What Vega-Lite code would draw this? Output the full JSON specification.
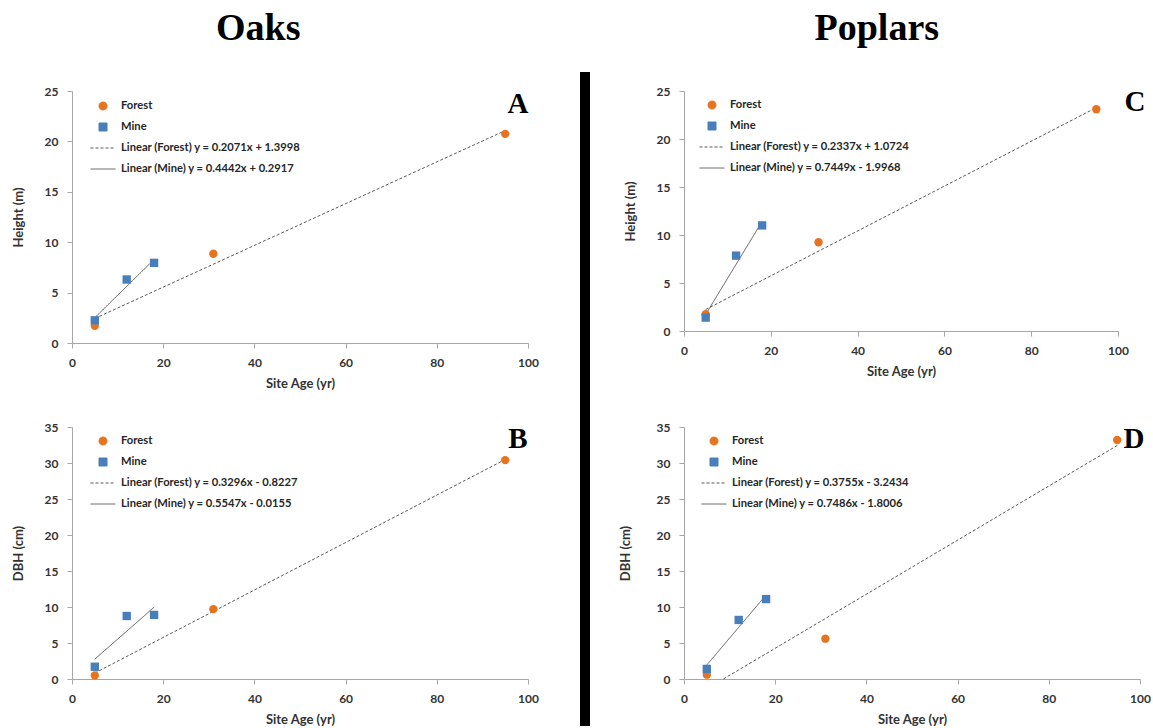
{
  "$schema": "https://vega.github.io/schema/vega-lite/v6.json",
  "background": "white",
  "padding": {"left": 12, "top": 10, "right": 0, "bottom": 0},
  "config": {
    "view": {"stroke": null},
    "font": "Lato",
    "axis": {"grid": false, "domainColor": "#a6a6a6", "tickColor": "#a6a6a6", "tickSize": 5, "labelFont": "Lato", "labelFontSize": 12, "labelFontWeight": "bold", "labelColor": "#333333", "labelFlush": false, "labelOverlap": false, "titleFont": "Lato", "titleFontSize": 13, "titleFontWeight": "bold", "titleColor": "#333333"},
    "axisX": {"labelPadding": 9, "titlePadding": 9},
    "axisY": {"labelPadding": 9, "titlePadding": 19},
    "legend": {"orient": "none", "title": null, "symbolSize": 625, "symbolStrokeWidth": 1, "rowPadding": 2, "labelOffset": 5, "labelFont": "Lato", "labelFontSize": 11.2, "labelFontWeight": "bold", "labelColor": "#262626", "labelLimit": 400},
    "title": {"font": "Liberation Serif", "fontSize": 38, "fontWeight": "bold", "color": "black", "anchor": "middle", "offset": 24}
  },
  "datasets": {
    "points": [
      {"panel": "A", "series": "Forest", "age": 5, "value": 1.7},
      {"panel": "A", "series": "Forest", "age": 31, "value": 8.85},
      {"panel": "A", "series": "Forest", "age": 95, "value": 20.75},
      {"panel": "A", "series": "Mine", "age": 5, "value": 2.25},
      {"panel": "A", "series": "Mine", "age": 12, "value": 6.3},
      {"panel": "A", "series": "Mine", "age": 18, "value": 7.95},
      {"panel": "B", "series": "Forest", "age": 5, "value": 0.5},
      {"panel": "B", "series": "Forest", "age": 31, "value": 9.7},
      {"panel": "B", "series": "Forest", "age": 95, "value": 30.4},
      {"panel": "B", "series": "Mine", "age": 5, "value": 1.7},
      {"panel": "B", "series": "Mine", "age": 12, "value": 8.75},
      {"panel": "B", "series": "Mine", "age": 18, "value": 8.9},
      {"panel": "C", "series": "Forest", "age": 5, "value": 1.75},
      {"panel": "C", "series": "Forest", "age": 31, "value": 9.25},
      {"panel": "C", "series": "Forest", "age": 95, "value": 23.1},
      {"panel": "C", "series": "Mine", "age": 5, "value": 1.4},
      {"panel": "C", "series": "Mine", "age": 12, "value": 7.85},
      {"panel": "C", "series": "Mine", "age": 18, "value": 11.0},
      {"panel": "D", "series": "Forest", "age": 5, "value": 0.6},
      {"panel": "D", "series": "Forest", "age": 31, "value": 5.6},
      {"panel": "D", "series": "Forest", "age": 95, "value": 33.2},
      {"panel": "D", "series": "Mine", "age": 5, "value": 1.4},
      {"panel": "D", "series": "Mine", "age": 12, "value": 8.2},
      {"panel": "D", "series": "Mine", "age": 18, "value": 11.1}
    ],
    "trends": [
      {"panel": "A", "series": "Linear (Forest) y = 0.2071x + 1.3998", "age": 5, "value": 2.435},
      {"panel": "A", "series": "Linear (Forest) y = 0.2071x + 1.3998", "age": 95, "value": 21.07},
      {"panel": "A", "series": "Linear (Mine) y = 0.4442x + 0.2917", "age": 5, "value": 2.51},
      {"panel": "A", "series": "Linear (Mine) y = 0.4442x + 0.2917", "age": 18, "value": 8.29},
      {"panel": "B", "series": "Linear (Forest) y = 0.3296x - 0.8227", "age": 5, "value": 0.825},
      {"panel": "B", "series": "Linear (Forest) y = 0.3296x - 0.8227", "age": 95, "value": 30.49},
      {"panel": "B", "series": "Linear (Mine) y = 0.5547x - 0.0155", "age": 5, "value": 2.758},
      {"panel": "B", "series": "Linear (Mine) y = 0.5547x - 0.0155", "age": 18, "value": 9.969},
      {"panel": "C", "series": "Linear (Forest) y = 0.2337x + 1.0724", "age": 5, "value": 2.241},
      {"panel": "C", "series": "Linear (Forest) y = 0.2337x + 1.0724", "age": 95, "value": 23.27},
      {"panel": "C", "series": "Linear (Mine) y = 0.7449x - 1.9968", "age": 5, "value": 1.728},
      {"panel": "C", "series": "Linear (Mine) y = 0.7449x - 1.9968", "age": 18, "value": 11.41},
      {"panel": "D", "series": "Linear (Forest) y = 0.3755x - 3.2434", "age": 8.64, "value": 0},
      {"panel": "D", "series": "Linear (Forest) y = 0.3755x - 3.2434", "age": 95, "value": 32.43},
      {"panel": "D", "series": "Linear (Mine) y = 0.7486x - 1.8006", "age": 5, "value": 1.943},
      {"panel": "D", "series": "Linear (Mine) y = 0.7486x - 1.8006", "age": 18, "value": 11.67}
    ],
    "letters": [
      {"panel": "A", "letter": "A", "lx": 97.8, "ly": 23.7},
      {"panel": "B", "letter": "B", "lx": 97.8, "ly": 33.3},
      {"panel": "C", "letter": "C", "lx": 103.9, "ly": 23.85},
      {"panel": "D", "letter": "D", "lx": 98.7, "ly": 33.3}
    ]
  },
  "resolve": {"scale": {"color": "independent", "shape": "independent", "strokeDash": "independent"}, "legend": {"color": "independent", "shape": "independent", "strokeDash": "independent"}},
  "spacing": 41,
  "hconcat": [
    {
      "title": {"text": "Oaks", "dx": -17},
      "spacing": 0,
      "resolve": {"scale": {"color": "independent", "shape": "independent", "strokeDash": "independent"}, "legend": {"color": "independent", "shape": "independent", "strokeDash": "independent"}},
      "vconcat": [
        {"width": 10, "height": 13, "data": {"values": [{}]}, "mark": {"type": "point", "opacity": 0}, "encoding": {}},
        {
          "spacing": 31,
          "resolve": {"scale": {"color": "independent", "shape": "independent", "strokeDash": "independent"}, "legend": {"color": "independent", "shape": "independent", "strokeDash": "independent"}},
          "vconcat": [
            {
              "width": 456, "height": 252,
              "layer": [
                {"data": {"name": "trends"}, "transform": [{"filter": "datum.panel === 'A'"}], "mark": {"type": "line", "strokeWidth": 1},
                 "encoding": {
                   "x": {"field": "age", "type": "quantitative", "scale": {"domain": [0, 100], "nice": false}, "axis": {"values": [0, 20, 40, 60, 80, 100], "title": "Site Age (yr)"}},
                   "y": {"field": "value", "type": "quantitative", "scale": {"domain": [0, 25], "nice": false}, "axis": {"values": [0, 5, 10, 15, 20, 25], "title": "Height (m)"}},
                   "color": {"field": "series", "type": "nominal", "scale": {"domain": ["Forest", "Mine", "Linear (Forest) y = 0.2071x + 1.3998", "Linear (Mine) y = 0.4442x + 0.2917"], "range": ["#E8731E", "#4A7EBB", "#595959", "#595959"]}, "legend": {"legendX": 18, "legendY": 2, "encode": {"symbols": {"update": {"size": {"signal": "datum.value === 'Forest' || datum.value === 'Mine' ? 64 : 625"}}}}}},
                   "strokeDash": {"field": "series", "type": "nominal", "scale": {"domain": ["Forest", "Mine", "Linear (Forest) y = 0.2071x + 1.3998", "Linear (Mine) y = 0.4442x + 0.2917"], "range": [[1, 0], [1, 0], [3, 2], [1, 0]]}, "legend": {"legendX": 18, "legendY": 2, "encode": {"symbols": {"update": {"size": {"signal": "datum.value === 'Forest' || datum.value === 'Mine' ? 64 : 625"}}}}}}
                 }},
                {"data": {"name": "points"}, "transform": [{"filter": "datum.panel === 'A'"}], "mark": {"type": "point", "filled": true, "opacity": 1, "size": 70},
                 "encoding": {
                   "x": {"field": "age", "type": "quantitative", "scale": {"domain": [0, 100], "nice": false}, "axis": {"values": [0, 20, 40, 60, 80, 100], "title": "Site Age (yr)"}},
                   "y": {"field": "value", "type": "quantitative", "scale": {"domain": [0, 25], "nice": false}, "axis": {"values": [0, 5, 10, 15, 20, 25], "title": "Height (m)"}},
                   "color": {"field": "series", "type": "nominal", "scale": {"domain": ["Forest", "Mine", "Linear (Forest) y = 0.2071x + 1.3998", "Linear (Mine) y = 0.4442x + 0.2917"], "range": ["#E8731E", "#4A7EBB", "#595959", "#595959"]}, "legend": {"legendX": 18, "legendY": 2, "encode": {"symbols": {"update": {"size": {"signal": "datum.value === 'Forest' || datum.value === 'Mine' ? 64 : 625"}}}}}},
                   "shape": {"field": "series", "type": "nominal", "scale": {"domain": ["Forest", "Mine", "Linear (Forest) y = 0.2071x + 1.3998", "Linear (Mine) y = 0.4442x + 0.2917"], "range": ["circle", "square", "stroke", "stroke"]}, "legend": {"legendX": 18, "legendY": 2, "encode": {"symbols": {"update": {"size": {"signal": "datum.value === 'Forest' || datum.value === 'Mine' ? 64 : 625"}}}}}}
                 }},
                {"data": {"name": "letters"}, "transform": [{"filter": "datum.panel === 'A'"}], "mark": {"type": "text", "font": "Liberation Serif", "fontSize": 29, "fontWeight": "bold", "align": "center", "baseline": "middle", "fill": "black"},
                 "encoding": {
                   "x": {"field": "lx", "type": "quantitative", "scale": {"domain": [0, 100], "nice": false}, "axis": {"values": [0, 20, 40, 60, 80, 100], "title": "Site Age (yr)"}},
                   "y": {"field": "ly", "type": "quantitative", "scale": {"domain": [0, 25], "nice": false}, "axis": {"values": [0, 5, 10, 15, 20, 25], "title": "Height (m)"}},
                   "text": {"field": "letter", "type": "nominal"}}}
              ]
            },
            {
              "width": 456, "height": 252,
              "layer": [
                {"data": {"name": "trends"}, "transform": [{"filter": "datum.panel === 'B'"}], "mark": {"type": "line", "strokeWidth": 1},
                 "encoding": {
                   "x": {"field": "age", "type": "quantitative", "scale": {"domain": [0, 100], "nice": false}, "axis": {"values": [0, 20, 40, 60, 80, 100], "title": "Site Age (yr)"}},
                   "y": {"field": "value", "type": "quantitative", "scale": {"domain": [0, 35], "nice": false}, "axis": {"values": [0, 5, 10, 15, 20, 25, 30, 35], "title": "DBH (cm)"}},
                   "color": {"field": "series", "type": "nominal", "scale": {"domain": ["Forest", "Mine", "Linear (Forest) y = 0.3296x - 0.8227", "Linear (Mine) y = 0.5547x - 0.0155"], "range": ["#E8731E", "#4A7EBB", "#595959", "#595959"]}, "legend": {"legendX": 18, "legendY": 1, "encode": {"symbols": {"update": {"size": {"signal": "datum.value === 'Forest' || datum.value === 'Mine' ? 64 : 625"}}}}}},
                   "strokeDash": {"field": "series", "type": "nominal", "scale": {"domain": ["Forest", "Mine", "Linear (Forest) y = 0.3296x - 0.8227", "Linear (Mine) y = 0.5547x - 0.0155"], "range": [[1, 0], [1, 0], [3, 2], [1, 0]]}, "legend": {"legendX": 18, "legendY": 1, "encode": {"symbols": {"update": {"size": {"signal": "datum.value === 'Forest' || datum.value === 'Mine' ? 64 : 625"}}}}}}
                 }},
                {"data": {"name": "points"}, "transform": [{"filter": "datum.panel === 'B'"}], "mark": {"type": "point", "filled": true, "opacity": 1, "size": 70},
                 "encoding": {
                   "x": {"field": "age", "type": "quantitative", "scale": {"domain": [0, 100], "nice": false}, "axis": {"values": [0, 20, 40, 60, 80, 100], "title": "Site Age (yr)"}},
                   "y": {"field": "value", "type": "quantitative", "scale": {"domain": [0, 35], "nice": false}, "axis": {"values": [0, 5, 10, 15, 20, 25, 30, 35], "title": "DBH (cm)"}},
                   "color": {"field": "series", "type": "nominal", "scale": {"domain": ["Forest", "Mine", "Linear (Forest) y = 0.3296x - 0.8227", "Linear (Mine) y = 0.5547x - 0.0155"], "range": ["#E8731E", "#4A7EBB", "#595959", "#595959"]}, "legend": {"legendX": 18, "legendY": 1, "encode": {"symbols": {"update": {"size": {"signal": "datum.value === 'Forest' || datum.value === 'Mine' ? 64 : 625"}}}}}},
                   "shape": {"field": "series", "type": "nominal", "scale": {"domain": ["Forest", "Mine", "Linear (Forest) y = 0.3296x - 0.8227", "Linear (Mine) y = 0.5547x - 0.0155"], "range": ["circle", "square", "stroke", "stroke"]}, "legend": {"legendX": 18, "legendY": 1, "encode": {"symbols": {"update": {"size": {"signal": "datum.value === 'Forest' || datum.value === 'Mine' ? 64 : 625"}}}}}}
                 }},
                {"data": {"name": "letters"}, "transform": [{"filter": "datum.panel === 'B'"}], "mark": {"type": "text", "font": "Liberation Serif", "fontSize": 29, "fontWeight": "bold", "align": "center", "baseline": "middle", "fill": "black"},
                 "encoding": {
                   "x": {"field": "lx", "type": "quantitative", "scale": {"domain": [0, 100], "nice": false}, "axis": {"values": [0, 20, 40, 60, 80, 100], "title": "Site Age (yr)"}},
                   "y": {"field": "ly", "type": "quantitative", "scale": {"domain": [0, 35], "nice": false}, "axis": {"values": [0, 5, 10, 15, 20, 25, 30, 35], "title": "DBH (cm)"}},
                   "text": {"field": "letter", "type": "nominal"}}}
              ]
            }
          ]
        }
      ]
    },
    {
      "spacing": 29,
      "resolve": {"scale": {"color": "independent", "shape": "independent", "strokeDash": "independent"}, "legend": {"color": "independent", "shape": "independent", "strokeDash": "independent"}},
      "hconcat": [
        {"width": 10, "height": 654, "view": {"fill": "black", "stroke": null}, "data": {"values": [{}]}, "mark": {"type": "point", "opacity": 0}, "encoding": {}},
        {
          "title": {"text": "Poplars", "dx": -8},
          "spacing": 0,
          "resolve": {"scale": {"color": "independent", "shape": "independent", "strokeDash": "independent"}, "legend": {"color": "independent", "shape": "independent", "strokeDash": "independent"}},
          "vconcat": [
            {"width": 10, "height": 13, "data": {"values": [{}]}, "mark": {"type": "point", "opacity": 0}, "encoding": {}},
            {
              "spacing": 43,
              "resolve": {"scale": {"color": "independent", "shape": "independent", "strokeDash": "independent"}, "legend": {"color": "independent", "shape": "independent", "strokeDash": "independent"}},
              "vconcat": [
                {
                  "width": 434, "height": 240,
                  "layer": [
                    {"data": {"name": "trends"}, "transform": [{"filter": "datum.panel === 'C'"}], "mark": {"type": "line", "strokeWidth": 1},
                     "encoding": {
                       "x": {"field": "age", "type": "quantitative", "scale": {"domain": [0, 100], "nice": false}, "axis": {"values": [0, 20, 40, 60, 80, 100], "title": "Site Age (yr)"}},
                       "y": {"field": "value", "type": "quantitative", "scale": {"domain": [0, 25], "nice": false}, "axis": {"values": [0, 5, 10, 15, 20, 25], "title": "Height (m)"}},
                       "color": {"field": "series", "type": "nominal", "scale": {"domain": ["Forest", "Mine", "Linear (Forest) y = 0.2337x + 1.0724", "Linear (Mine) y = 0.7449x - 1.9968"], "range": ["#E8731E", "#4A7EBB", "#595959", "#595959"]}, "legend": {"legendX": 15, "legendY": 1, "encode": {"symbols": {"update": {"size": {"signal": "datum.value === 'Forest' || datum.value === 'Mine' ? 64 : 625"}}}}}},
                       "strokeDash": {"field": "series", "type": "nominal", "scale": {"domain": ["Forest", "Mine", "Linear (Forest) y = 0.2337x + 1.0724", "Linear (Mine) y = 0.7449x - 1.9968"], "range": [[1, 0], [1, 0], [3, 2], [1, 0]]}, "legend": {"legendX": 15, "legendY": 1, "encode": {"symbols": {"update": {"size": {"signal": "datum.value === 'Forest' || datum.value === 'Mine' ? 64 : 625"}}}}}}
                     }},
                    {"data": {"name": "points"}, "transform": [{"filter": "datum.panel === 'C'"}], "mark": {"type": "point", "filled": true, "opacity": 1, "size": 70},
                     "encoding": {
                       "x": {"field": "age", "type": "quantitative", "scale": {"domain": [0, 100], "nice": false}, "axis": {"values": [0, 20, 40, 60, 80, 100], "title": "Site Age (yr)"}},
                       "y": {"field": "value", "type": "quantitative", "scale": {"domain": [0, 25], "nice": false}, "axis": {"values": [0, 5, 10, 15, 20, 25], "title": "Height (m)"}},
                       "color": {"field": "series", "type": "nominal", "scale": {"domain": ["Forest", "Mine", "Linear (Forest) y = 0.2337x + 1.0724", "Linear (Mine) y = 0.7449x - 1.9968"], "range": ["#E8731E", "#4A7EBB", "#595959", "#595959"]}, "legend": {"legendX": 15, "legendY": 1, "encode": {"symbols": {"update": {"size": {"signal": "datum.value === 'Forest' || datum.value === 'Mine' ? 64 : 625"}}}}}},
                       "shape": {"field": "series", "type": "nominal", "scale": {"domain": ["Forest", "Mine", "Linear (Forest) y = 0.2337x + 1.0724", "Linear (Mine) y = 0.7449x - 1.9968"], "range": ["circle", "square", "stroke", "stroke"]}, "legend": {"legendX": 15, "legendY": 1, "encode": {"symbols": {"update": {"size": {"signal": "datum.value === 'Forest' || datum.value === 'Mine' ? 64 : 625"}}}}}}
                     }},
                    {"data": {"name": "letters"}, "transform": [{"filter": "datum.panel === 'C'"}], "mark": {"type": "text", "font": "Liberation Serif", "fontSize": 29, "fontWeight": "bold", "align": "center", "baseline": "middle", "fill": "black"},
                     "encoding": {
                       "x": {"field": "lx", "type": "quantitative", "scale": {"domain": [0, 100], "nice": false}, "axis": {"values": [0, 20, 40, 60, 80, 100], "title": "Site Age (yr)"}},
                       "y": {"field": "ly", "type": "quantitative", "scale": {"domain": [0, 25], "nice": false}, "axis": {"values": [0, 5, 10, 15, 20, 25], "title": "Height (m)"}},
                       "text": {"field": "letter", "type": "nominal"}}}
                  ]
                },
                {
                  "width": 456, "height": 252,
                  "layer": [
                    {"data": {"name": "trends"}, "transform": [{"filter": "datum.panel === 'D'"}], "mark": {"type": "line", "strokeWidth": 1},
                     "encoding": {
                       "x": {"field": "age", "type": "quantitative", "scale": {"domain": [0, 100], "nice": false}, "axis": {"values": [0, 20, 40, 60, 80, 100], "title": "Site Age (yr)"}},
                       "y": {"field": "value", "type": "quantitative", "scale": {"domain": [0, 35], "nice": false}, "axis": {"values": [0, 5, 10, 15, 20, 25, 30, 35], "title": "DBH (cm)", "titlePadding": 24}},
                       "color": {"field": "series", "type": "nominal", "scale": {"domain": ["Forest", "Mine", "Linear (Forest) y = 0.3755x - 3.2434", "Linear (Mine) y = 0.7486x - 1.8006"], "range": ["#E8731E", "#4A7EBB", "#595959", "#595959"]}, "legend": {"legendX": 17, "legendY": 1, "encode": {"symbols": {"update": {"size": {"signal": "datum.value === 'Forest' || datum.value === 'Mine' ? 64 : 625"}}}}}},
                       "strokeDash": {"field": "series", "type": "nominal", "scale": {"domain": ["Forest", "Mine", "Linear (Forest) y = 0.3755x - 3.2434", "Linear (Mine) y = 0.7486x - 1.8006"], "range": [[1, 0], [1, 0], [3, 2], [1, 0]]}, "legend": {"legendX": 17, "legendY": 1, "encode": {"symbols": {"update": {"size": {"signal": "datum.value === 'Forest' || datum.value === 'Mine' ? 64 : 625"}}}}}}
                     }},
                    {"data": {"name": "points"}, "transform": [{"filter": "datum.panel === 'D'"}], "mark": {"type": "point", "filled": true, "opacity": 1, "size": 70},
                     "encoding": {
                       "x": {"field": "age", "type": "quantitative", "scale": {"domain": [0, 100], "nice": false}, "axis": {"values": [0, 20, 40, 60, 80, 100], "title": "Site Age (yr)"}},
                       "y": {"field": "value", "type": "quantitative", "scale": {"domain": [0, 35], "nice": false}, "axis": {"values": [0, 5, 10, 15, 20, 25, 30, 35], "title": "DBH (cm)", "titlePadding": 24}},
                       "color": {"field": "series", "type": "nominal", "scale": {"domain": ["Forest", "Mine", "Linear (Forest) y = 0.3755x - 3.2434", "Linear (Mine) y = 0.7486x - 1.8006"], "range": ["#E8731E", "#4A7EBB", "#595959", "#595959"]}, "legend": {"legendX": 17, "legendY": 1, "encode": {"symbols": {"update": {"size": {"signal": "datum.value === 'Forest' || datum.value === 'Mine' ? 64 : 625"}}}}}},
                       "shape": {"field": "series", "type": "nominal", "scale": {"domain": ["Forest", "Mine", "Linear (Forest) y = 0.3755x - 3.2434", "Linear (Mine) y = 0.7486x - 1.8006"], "range": ["circle", "square", "stroke", "stroke"]}, "legend": {"legendX": 17, "legendY": 1, "encode": {"symbols": {"update": {"size": {"signal": "datum.value === 'Forest' || datum.value === 'Mine' ? 64 : 625"}}}}}}
                     }},
                    {"data": {"name": "letters"}, "transform": [{"filter": "datum.panel === 'D'"}], "mark": {"type": "text", "font": "Liberation Serif", "fontSize": 29, "fontWeight": "bold", "align": "center", "baseline": "middle", "fill": "black"},
                     "encoding": {
                       "x": {"field": "lx", "type": "quantitative", "scale": {"domain": [0, 100], "nice": false}, "axis": {"values": [0, 20, 40, 60, 80, 100], "title": "Site Age (yr)"}},
                       "y": {"field": "ly", "type": "quantitative", "scale": {"domain": [0, 35], "nice": false}, "axis": {"values": [0, 5, 10, 15, 20, 25, 30, 35], "title": "DBH (cm)", "titlePadding": 24}},
                       "text": {"field": "letter", "type": "nominal"}}}
                  ]
                }
              ]
            }
          ]
        }
      ]
    }
  ]
}
